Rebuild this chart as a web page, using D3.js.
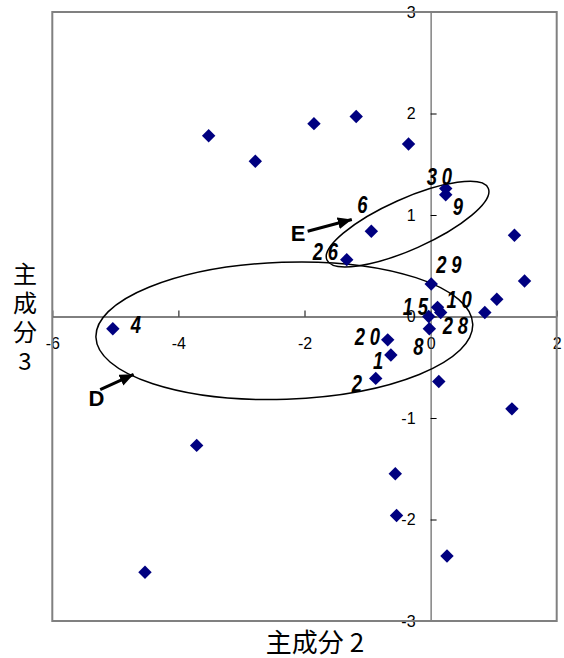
<!DOCTYPE html>
<html>
<head>
<meta charset="utf-8">
<script src="https://cdn.jsdelivr.net/npm/d3@7"></script>
<style>
  html, body { margin: 0; padding: 0; background: #fff; }
  svg { display: block; }
</style>
</head>
<body>
<svg id="chart" width="564" height="658"></svg>
<script>
// Principal component scores: component 2 (horizontal) and component 3 (vertical)
const pc2 = [-5.04, -3.52, -2.78, -1.85, -1.18, -0.35, 0.24, 0.24, -0.94, -1.33,
             1.33, 1.49, 1.05, 0.86, 0.01, 0.11, 0.16, -0.03, -0.02, -0.68,
             -0.63, -0.87, 0.13, 1.29, -3.71, -0.56, -0.54, 0.26, -4.53];
const pc3 = [-0.12, 1.78, 1.53, 1.90, 1.97, 1.70, 1.26, 1.20, 0.84, 0.56,
             0.80, 0.35, 0.17, 0.04, 0.32, 0.09, 0.04, 0.00, -0.12, -0.23,
             -0.38, -0.61, -0.64, -0.91, -1.27, -1.55, -1.96, -2.36, -2.52];
// Sample numbers shown beside some of the points ('' = no label)
const sampleIds = ['4', '', '', '', '', '', '30', '9', '6', '26',
                   '', '', '', '', '29', '10', '28', '15', '8', '20',
                   '1', '2', '', '', '', '', '', '', ''];
// Where each sample number sits relative to its point (pixels, left / baseline)
const labelOffsets = {
  '4': [18, 4], '30': [-19, -4], '9': [7, 20], '6': [-14, -18], '26': [-34, 0],
  '29': [5, -11], '10': [9, 1], '28': [2, 22], '15': [-26, -2], '8': [-16, 26],
  '20': [-33, 5], '1': [-18, 14], '2': [-24, 14]
};

const xTicks = [-6, -4, -2, 0, 2];
const yTicks = [-3, -2, -1, 0, 1, 2, 3];
const xTitle = '主成分 2';
const yTitleLines = ['主', '成', '分', '3'];

// Group outlines in data units: centre, semi-axes, rotation (degrees, screen)
const groups = [
  { name: 'D', cx: -2.32, cy: -0.14, rx: 2.99, ry: 0.675, rot: -2 },
  { name: 'E', cx: -0.365, cy: 0.91, rx: 1.40, ry: 0.25, rot: -24 }
];
// Pointer arrows for the group letters (data units)
const pointers = [
  { name: 'E', from: [-1.95, 0.84], to: [-1.25, 0.955], text: [-2.10, 0.82] },
  { name: 'D', from: [-5.24, -0.72], to: [-4.71, -0.57], text: [-5.30, -0.80] }
];

const svg = d3.select('#chart');
const x = d3.scaleLinear().domain([-6, 2]).range([52.3, 556.7]);
const y = d3.scaleLinear().domain([-3, 3]).range([621, 12]);

const defs = svg.append('defs');
defs.append('marker')
  .attr('id', 'head')
  .attr('viewBox', '0 0 14 12')
  .attr('refX', 14).attr('refY', 6)
  .attr('markerWidth', 14).attr('markerHeight', 12)
  .attr('markerUnits', 'userSpaceOnUse')
  .attr('orient', 'auto')
  .append('path').attr('d', 'M0,0 L14,6 L0,12 Z').attr('fill', '#000');

// Axes cross at the origin
const xAxis = d3.axisBottom(x).tickValues(xTicks).tickFormat(d => String(d))
  .tickSizeInner(-6).tickSizeOuter(0).tickPadding(21.6);
const yAxis = d3.axisLeft(y).tickValues(yTicks).tickFormat(d => String(d))
  .tickSizeInner(-6).tickSizeOuter(0).tickPadding(15);

const gx = svg.append('g').attr('transform', `translate(0,${y(0)})`).call(xAxis);
const gy = svg.append('g').attr('transform', `translate(${x(0)},0)`).call(yAxis);
[gx, gy].forEach(g => {
  g.selectAll('text').attr('font-family', 'Liberation Sans, Arial, sans-serif')
    .attr('font-size', 16).attr('fill', '#000');
  g.selectAll('line').attr('stroke', '#000');
});
gx.select('.domain').attr('stroke', '#000');
gy.select('.domain').attr('stroke', '#444');

// Plot area border
svg.append('rect')
  .attr('x', x(-6)).attr('y', y(3))
  .attr('width', x(2) - x(-6)).attr('height', y(-3) - y(3))
  .attr('fill', 'none').attr('stroke', '#808080').attr('stroke-width', 2);

// Group ellipses
const kx = x(1) - x(0), ky = y(0) - y(1);
svg.append('g').selectAll('ellipse').data(groups).join('ellipse')
  .attr('cx', 0).attr('cy', 0)
  .attr('rx', d => d.rx * kx).attr('ry', d => d.ry * ky)
  .attr('transform', d => `translate(${x(d.cx)},${y(d.cy)}) rotate(${d.rot})`)
  .attr('fill', 'none').attr('stroke', '#000').attr('stroke-width', 1.5);

// Points
const pts = pc2.map((v, i) => ({ x: v, y: pc3[i], id: sampleIds[i] }));
const diamond = d3.symbol(d3.symbolSquare, 90);
svg.append('g').selectAll('path').data(pts).join('path')
  .attr('d', diamond)
  .attr('transform', d => `translate(${x(d.x)},${y(d.y)}) rotate(45)`)
  .attr('fill', '#000080');

// Sample numbers: condensed bold italic digits
svg.append('g').selectAll('text').data(pts.filter(d => d.id)).join('text')
  .attr('transform', d =>
    `translate(${x(d.x) + labelOffsets[d.id][0]},${y(d.y) + labelOffsets[d.id][1]}) scale(0.8,1.05)`)
  .attr('font-family', 'Liberation Sans, Arial, sans-serif')
  .attr('font-size', 23).attr('font-weight', 'bold').attr('font-style', 'italic')
  .attr('letter-spacing', 6)
  .text(d => d.id);

// Group pointers
const gp = svg.append('g');
gp.selectAll('line').data(pointers).join('line')
  .attr('x1', d => x(d.from[0])).attr('y1', d => y(d.from[1]))
  .attr('x2', d => x(d.to[0])).attr('y2', d => y(d.to[1]))
  .attr('stroke', '#000').attr('stroke-width', 3)
  .attr('marker-end', 'url(#head)');
gp.selectAll('text').data(pointers).join('text')
  .attr('x', d => x(d.text[0])).attr('y', d => y(d.text[1]))
  .attr('text-anchor', 'middle').attr('dy', '0.36em')
  .attr('font-family', 'Liberation Sans, Arial, sans-serif')
  .attr('font-size', 22).attr('font-weight', 'bold')
  .text(d => d.name);

// Axis titles
svg.append('text')
  .attr('x', 315).attr('y', 652).attr('text-anchor', 'middle')
  .attr('font-family', 'Noto Sans CJK JP, sans-serif').attr('font-size', 26)
  .text(xTitle);
svg.append('g').selectAll('text').data(yTitleLines).join('text')
  .attr('x', 25).attr('y', (d, i) => 283 + i * 29)
  .attr('text-anchor', 'middle')
  .attr('font-family', 'Noto Sans CJK JP, sans-serif').attr('font-size', 24)
  .text(d => d);
</script>
</body>
</html>
